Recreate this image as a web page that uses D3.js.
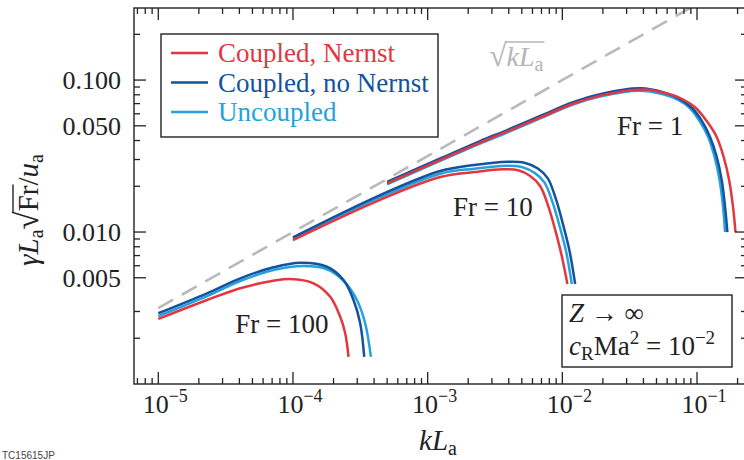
<!DOCTYPE html>
<html><head><meta charset="utf-8">
<script src="https://cdn.jsdelivr.net/npm/d3@7"></script>
<style>
body{margin:0;background:#fff}
svg{display:block}
text{font-family:"Liberation Serif","Times New Roman",serif;fill:#222}
</style>
</head><body>
<svg id="c" width="744" height="460"></svg>
<script>
// ---- data (kLa, gamma La sqrt(Fr)/ua) ----
const fr1Nernst = [[5e-4,0.0209],[1.24e-3,0.0298],[2.45e-3,0.0388],[3.89e-3,0.0459],[6.84e-3,0.0567],[0.012,0.0698],[0.0191,0.0790],[0.040,0.0866],[0.061,0.0812],[0.079,0.0745],[0.098,0.0655],[0.118,0.0537],[0.1397,0.0424],[0.1575,0.0313],[0.173,0.022],[0.185,0.0147],[0.193,0.010]];
const fr1NoNernst = [[5e-4,0.0214],[1.24e-3,0.0305],[2.45e-3,0.0397],[3.89e-3,0.0469],[6.84e-3,0.058],[0.012,0.0714],[0.0191,0.0807],[0.0378,0.0882],[0.0579,0.0824],[0.0748,0.075],[0.0918,0.0655],[0.1089,0.0537],[0.1247,0.0424],[0.140,0.0313],[0.1525,0.022],[0.1614,0.0147],[0.168,0.010]];
const fr1Uncoupled = [[5e-4,0.0206],[1.24e-3,0.0294],[2.45e-3,0.0382],[3.89e-3,0.0452],[6.84e-3,0.0559],[0.012,0.0689],[0.0191,0.0779],[0.037,0.085],[0.056,0.0806],[0.0725,0.074],[0.0885,0.0655],[0.1045,0.0537],[0.1208,0.0424],[0.135,0.0313],[0.147,0.022],[0.156,0.0147],[0.1614,0.010]];

const fr10Nernst = [[1e-4,0.00886],[4.44e-4,0.0163],[1.24e-3,0.0230],[2.22e-3,0.0248],[3.6e-3,0.0259],[4.7e-3,0.0255],[5.77e-3,0.0234],[6.84e-3,0.0201],[7.9e-3,0.0146],[8.83e-3,0.0104],[9.88e-3,0.0070],[0.0109,0.00455]];
const fr10NoNernst = [[1e-4,0.00922],[4.44e-4,0.0175],[1.24e-3,0.0252],[2.22e-3,0.0276],[3.94e-3,0.0290],[5.22e-3,0.0286],[6.58e-3,0.0262],[7.80e-3,0.02255],[9.0e-3,0.01626],[0.01007,0.0114],[0.01127,0.00762],[0.01245,0.00455]];
const fr10Uncoupled = [[1e-4,0.00904],[4.44e-4,0.0169],[1.24e-3,0.0242],[2.22e-3,0.0261],[3.8e-3,0.0273],[5.0e-3,0.0268],[6.22e-3,0.0245],[7.37e-3,0.0212],[8.5e-3,0.0155],[9.52e-3,0.0110],[0.01065,0.0075],[0.01175,0.00455]];

const fr100Nernst = [[1e-5,0.00268],[2.30e-5,0.00357],[4.06e-5,0.00427],[7.17e-5,0.00478],[9.55e-5,0.00491],[1.421e-4,0.0046],[1.89e-4,0.00375],[2.242e-4,0.00277],[2.442e-4,0.00216],[2.584e-4,0.00151]];
const fr100NoNernst = [[1e-5,0.00292],[2.30e-5,0.00395],[4.06e-5,0.00496],[7.17e-5,0.00586],[1.132e-4,0.00628],[1.787e-4,0.00591],[2.372e-4,0.00483],[2.814e-4,0.00357],[3.155e-4,0.00251],[3.38e-4,0.00151]];
const fr100Uncoupled = [[1e-5,0.0028],[2.30e-5,0.00379],[4.06e-5,0.00476],[7.17e-5,0.00562],[1.198e-4,0.00597],[1.787e-4,0.00569],[2.372e-4,0.00478],[2.982e-4,0.00357],[3.435e-4,0.00251],[3.79e-4,0.00151]];

const sqrtGuide = [[1e-5,0.003162],[0.0888,0.298]];

const seriesNames = ["Coupled, Nernst","Coupled, no Nernst","Uncoupled"];
const seriesColors = ["#e3363f","#12529f","#25a1dc"];

const xMajor = [1e-5,1e-4,1e-3,1e-2,1e-1];
const xMajorExp = ["−5","−4","−3","−2","−1"];
const yMajor = [0.005,0.01,0.05,0.1];
const yMajorLabels = ["0.005","0.010","0.050","0.100"];
const yMinor = [0.002,0.003,0.006,0.007,0.008,0.009,0.02,0.03,0.04,0.06,0.07,0.08,0.09,0.2];

const frLabels = [{t:"Fr = 1",k:0.0255,v:0.0435},{t:"Fr = 10",k:1.545e-3,v:0.01274},{t:"Fr = 100",k:3.73e-5,v:0.00217}];

// ---- layout ----
const L=134,R=747,T=8,B=384;
const FS=26;
const svg = d3.select("#c");
const x = d3.scaleLog().domain([6.6e-6,0.235]).range([L,R]);
const y = d3.scaleLog().domain([0.001,0.298]).range([B,T]);

svg.append("clipPath").attr("id","clip").append("rect").attr("x",L).attr("y",T).attr("width",R-L).attr("height",B-T);
const plot = svg.append("g").attr("clip-path","url(#clip)");

const line = d3.line().x(d=>x(d[0])).y(d=>y(d[1])).curve(d3.curveCatmullRom.alpha(0.5));

plot.append("path").datum(sqrtGuide).attr("d",d3.line().x(d=>x(d[0])).y(d=>y(d[1])))
  .attr("fill","none").attr("stroke","#b9b9b9").attr("stroke-width",2.6).attr("stroke-dasharray","17,10");

const groups = [[fr1Nernst,fr1NoNernst,fr1Uncoupled],[fr10Nernst,fr10NoNernst,fr10Uncoupled],[fr100Nernst,fr100NoNernst,fr100Uncoupled]];
groups.forEach(g=>{
  [2,1,0].forEach(i=>{
    plot.append("path").datum(g[i]).attr("d",line).attr("fill","none")
      .attr("stroke",seriesColors[i]).attr("stroke-width",2.5);
  });
});

// ---- frame & ticks ----
svg.append("rect").attr("x",L).attr("y",T).attr("width",R-L).attr("height",B-T)
  .attr("fill","none").attr("stroke","#222").attr("stroke-width",1.4);

const xMinor=[];
for(let d=-6; d<=0; d++) for(let m=2;m<=9;m++){const v=m*Math.pow(10,d); if(v>x.domain()[0]&&v<x.domain()[1]) xMinor.push(v);}
const tk = svg.append("g").attr("stroke","#222").attr("stroke-width",1.3);
xMajor.forEach(v=>{const p=x(v); tk.append("line").attr("x1",p).attr("x2",p).attr("y1",B).attr("y2",B-12); tk.append("line").attr("x1",p).attr("x2",p).attr("y1",T).attr("y2",T+12);});
xMinor.forEach(v=>{const p=x(v); tk.append("line").attr("x1",p).attr("x2",p).attr("y1",B).attr("y2",B-6); tk.append("line").attr("x1",p).attr("x2",p).attr("y1",T).attr("y2",T+6);});
yMajor.forEach(v=>{const p=y(v); tk.append("line").attr("y1",p).attr("y2",p).attr("x1",L).attr("x2",L+12); tk.append("line").attr("y1",p).attr("y2",p).attr("x1",R).attr("x2",R-12);});
yMinor.forEach(v=>{const p=y(v); tk.append("line").attr("y1",p).attr("y2",p).attr("x1",L).attr("x2",L+6); tk.append("line").attr("y1",p).attr("y2",p).attr("x1",R).attr("x2",R-6);});

// tick labels
xMajor.forEach((v,i)=>{
  const t=svg.append("text").attr("x",x(v)+7).attr("y",413).attr("text-anchor","middle").style("font-size",FS+"px");
  t.append("tspan").text("10");
  t.append("tspan").attr("dy",-11).style("font-size","18px").text(xMajorExp[i]);
});
yMajor.forEach((v,i)=>{
  svg.append("text").attr("x",121).attr("y",y(v)+9).attr("text-anchor","end").style("font-size",FS+"px").text(yMajorLabels[i]);
});

// axis titles
const xt=svg.append("text").attr("x",438).attr("y",450).attr("text-anchor","middle").style("font-size","29px");
xt.append("tspan").style("font-style","italic").text("kL");
xt.append("tspan").attr("dy",5).style("font-size","20px").text("a");

const yg=svg.append("g").attr("transform","translate(38,210) rotate(-90)");
const yt=yg.append("text").attr("text-anchor","middle").style("font-size","29px");
yt.append("tspan").style("font-style","italic").text("γL");
yt.append("tspan").attr("dy",5).style("font-size","20px").text("a");
yt.append("tspan").attr("dy",-5).style("font-size","33px").text("√");
yt.append("tspan").text("Fr");
yt.append("tspan").text("/");
yt.append("tspan").style("font-style","italic").text("u");
yt.append("tspan").attr("dy",5).style("font-size","20px").text("a");
{
  const n=yt.node();
  const s=n.getEndPositionOfChar(3), e=n.getEndPositionOfChar(5);
  yg.append("line").attr("x1",s.x-1.5).attr("x2",e.x+1).attr("y1",-25).attr("y2",-25).attr("stroke","#222").attr("stroke-width",1.4);
}

// sqrt(kLa) guide label
const sg=svg.append("g").attr("transform","translate(489,66)");
const st=sg.append("text").style("font-size","28px").style("fill","#b5b5b5");
st.append("tspan").style("font-size","32px").text("√");
st.append("tspan").style("font-style","italic").text("kL");
st.append("tspan").attr("dy",5).style("font-size","20px").text("a");
{
  const n=st.node();
  const s=n.getEndPositionOfChar(0), e=n.getEndPositionOfChar(3);
  sg.append("line").attr("x1",s.x-1.5).attr("x2",e.x+1).attr("y1",-24).attr("y2",-24).attr("stroke","#b5b5b5").attr("stroke-width",1.4);
}

// Fr labels
frLabels.forEach(f=>{
  svg.append("text").attr("x",x(f.k)).attr("y",y(f.v)).style("font-size","27px").text(f.t);
});

// legend
svg.append("rect").attr("x",161).attr("y",34).attr("width",277).attr("height",103).attr("fill","#fff").attr("stroke","#222").attr("stroke-width",1.4);
seriesNames.forEach((n,i)=>{
  const yy=53+i*29.5;
  svg.append("line").attr("x1",171).attr("x2",208).attr("y1",yy).attr("y2",yy).attr("stroke",seriesColors[i]).attr("stroke-width",2.6);
  svg.append("text").attr("x",218).attr("y",yy+9).style("font-size","27px").style("fill",seriesColors[i]).text(n);
});

// annotation box
svg.append("rect").attr("x",562).attr("y",295).attr("width",170).attr("height",72).attr("fill","#fff").attr("stroke","#222").attr("stroke-width",1.4);
const a1=svg.append("text").attr("x",569).attr("y",322).style("font-size","27px");
a1.append("tspan").style("font-style","italic").text("Z");
a1.append("tspan").text(" → ∞");
const a2=svg.append("text").attr("x",569).attr("y",355).style("font-size","27px");
a2.append("tspan").style("font-style","italic").text("c");
a2.append("tspan").attr("dy",5).style("font-size","19px").text("R");
a2.append("tspan").attr("dy",-5).text("Ma");
a2.append("tspan").attr("dy",-11).style("font-size","19px").text("2");
a2.append("tspan").attr("dy",11).text(" = 10");
a2.append("tspan").attr("dy",-11).style("font-size","19px").text("−2");

svg.append("text").attr("x",2).attr("y",459).style("font-size","10px").style("font-family","Arial, sans-serif").style("fill","#444").text("TC15615JP");
</script>
</body></html>
